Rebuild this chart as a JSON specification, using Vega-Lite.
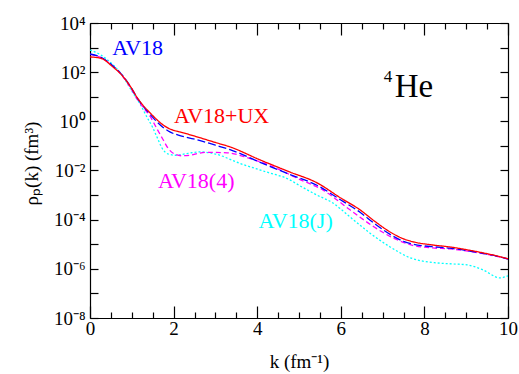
{
  "$schema": "https://vega.github.io/schema/vega-lite/v6.json",
  "width": 418,
  "height": 295,
  "autosize": "none",
  "padding": {"left": 90, "top": 23, "right": 11, "bottom": 56},
  "config": {
    "font": "Liberation Serif",
    "view": {"stroke": null},
    "axis": {
      "labelFont": "Liberation Serif",
      "titleFont": "Liberation Serif",
      "labelColor": "black",
      "titleColor": "black",
      "domainColor": "black",
      "tickColor": "black",
      "grid": false,
      "labelFlush": false,
      "labelOverlap": false,
      "labelFontSize": 19,
      "titleFontSize": 19,
      "titleFontWeight": "normal",
      "domainWidth": 1.2,
      "tickWidth": 1.2
    }
  },
  "datasets": {
    "curves": [
      {"series": "AV18(J)", "k": 0, "rho": 794},
      {"series": "AV18(J)", "k": 0.24, "rho": 525},
      {"series": "AV18(J)", "k": 0.55, "rho": 200},
      {"series": "AV18(J)", "k": 0.75, "rho": 83},
      {"series": "AV18(J)", "k": 1.03, "rho": 14.1},
      {"series": "AV18(J)", "k": 1.2, "rho": 5.0},
      {"series": "AV18(J)", "k": 1.36, "rho": 1.51},
      {"series": "AV18(J)", "k": 1.5, "rho": 0.562},
      {"series": "AV18(J)", "k": 1.6, "rho": 0.234},
      {"series": "AV18(J)", "k": 1.75, "rho": 0.0692},
      {"series": "AV18(J)", "k": 1.87, "rho": 0.0468},
      {"series": "AV18(J)", "k": 2.05, "rho": 0.0417},
      {"series": "AV18(J)", "k": 2.35, "rho": 0.0501},
      {"series": "AV18(J)", "k": 2.63, "rho": 0.0575},
      {"series": "AV18(J)", "k": 3.0, "rho": 0.0468},
      {"series": "AV18(J)", "k": 3.6, "rho": 0.0191},
      {"series": "AV18(J)", "k": 4.2, "rho": 0.00891},
      {"series": "AV18(J)", "k": 4.78, "rho": 0.00417},
      {"series": "AV18(J)", "k": 5.0, "rho": 0.00251},
      {"series": "AV18(J)", "k": 5.43, "rho": 0.001},
      {"series": "AV18(J)", "k": 5.81, "rho": 0.000479},
      {"series": "AV18(J)", "k": 6.22, "rho": 0.000129},
      {"series": "AV18(J)", "k": 6.7, "rho": 0.0000282},
      {"series": "AV18(J)", "k": 7.18, "rho": 0.00000776},
      {"series": "AV18(J)", "k": 7.66, "rho": 0.00000282},
      {"series": "AV18(J)", "k": 8.3, "rho": 0.00000174},
      {"series": "AV18(J)", "k": 8.7, "rho": 0.00000158},
      {"series": "AV18(J)", "k": 9.02, "rho": 0.00000145},
      {"series": "AV18(J)", "k": 9.4, "rho": 0.000000912},
      {"series": "AV18(J)", "k": 9.81, "rho": 0.000000427},
      {"series": "AV18(J)", "k": 10, "rho": 0.000000525},

      {"series": "AV18(4)", "k": 0, "rho": 525},
      {"series": "AV18(4)", "k": 0.25, "rho": 398},
      {"series": "AV18(4)", "k": 0.55, "rho": 174},
      {"series": "AV18(4)", "k": 0.75, "rho": 79.4},
      {"series": "AV18(4)", "k": 0.89, "rho": 38},
      {"series": "AV18(4)", "k": 1.0, "rho": 19.1},
      {"series": "AV18(4)", "k": 1.12, "rho": 8.51},
      {"series": "AV18(4)", "k": 1.28, "rho": 3.55},
      {"series": "AV18(4)", "k": 1.44, "rho": 1.58},
      {"series": "AV18(4)", "k": 1.6, "rho": 0.501},
      {"series": "AV18(4)", "k": 1.75, "rho": 0.178},
      {"series": "AV18(4)", "k": 1.87, "rho": 0.0794},
      {"series": "AV18(4)", "k": 2.05, "rho": 0.0447},
      {"series": "AV18(4)", "k": 2.2, "rho": 0.0398},
      {"series": "AV18(4)", "k": 2.4, "rho": 0.0417},
      {"series": "AV18(4)", "k": 2.6, "rho": 0.0501},
      {"series": "AV18(4)", "k": 2.8, "rho": 0.055},
      {"series": "AV18(4)", "k": 3.28, "rho": 0.0525},
      {"series": "AV18(4)", "k": 3.8, "rho": 0.0316},
      {"series": "AV18(4)", "k": 4.38, "rho": 0.0141},
      {"series": "AV18(4)", "k": 5.0, "rho": 0.00447},
      {"series": "AV18(4)", "k": 5.57, "rho": 0.00162},
      {"series": "AV18(4)", "k": 6.22, "rho": 0.000251},
      {"series": "AV18(4)", "k": 6.8, "rho": 0.0000501},
      {"series": "AV18(4)", "k": 7.2, "rho": 0.00002},
      {"series": "AV18(4)", "k": 7.66, "rho": 0.00000955},
      {"series": "AV18(4)", "k": 8.2, "rho": 0.00000708},
      {"series": "AV18(4)", "k": 8.61, "rho": 0.00000646},
      {"series": "AV18(4)", "k": 9.0, "rho": 0.00000537},
      {"series": "AV18(4)", "k": 9.4, "rho": 0.00000417},
      {"series": "AV18(4)", "k": 10, "rho": 0.00000251},

      {"series": "AV18", "k": 0, "rho": 550},
      {"series": "AV18", "k": 0.25, "rho": 417},
      {"series": "AV18", "k": 0.55, "rho": 178},
      {"series": "AV18", "k": 0.75, "rho": 83.2},
      {"series": "AV18", "k": 0.89, "rho": 41.7},
      {"series": "AV18", "k": 1.0, "rho": 21.4},
      {"series": "AV18", "k": 1.12, "rho": 9.55},
      {"series": "AV18", "k": 1.28, "rho": 3.98},
      {"series": "AV18", "k": 1.44, "rho": 1.91},
      {"series": "AV18", "k": 1.6, "rho": 0.955},
      {"series": "AV18", "k": 1.75, "rho": 0.562},
      {"series": "AV18", "k": 1.9, "rho": 0.38},
      {"series": "AV18", "k": 2.15, "rho": 0.263},
      {"series": "AV18", "k": 2.3, "rho": 0.224},
      {"series": "AV18", "k": 2.56, "rho": 0.178},
      {"series": "AV18", "k": 3.0, "rho": 0.107},
      {"series": "AV18", "k": 3.35, "rho": 0.0708},
      {"series": "AV18", "k": 4.07, "rho": 0.0214},
      {"series": "AV18", "k": 4.78, "rho": 0.00692},
      {"series": "AV18", "k": 5.43, "rho": 0.00251},
      {"series": "AV18", "k": 6.0, "rho": 0.000631},
      {"series": "AV18", "k": 6.46, "rho": 0.0002},
      {"series": "AV18", "k": 6.8, "rho": 0.0000708},
      {"series": "AV18", "k": 7.18, "rho": 0.0000251},
      {"series": "AV18", "k": 7.5, "rho": 0.0000132},
      {"series": "AV18", "k": 7.73, "rho": 0.00001},
      {"series": "AV18", "k": 8.2, "rho": 0.00000794},
      {"series": "AV18", "k": 8.61, "rho": 0.00000692},
      {"series": "AV18", "k": 9.0, "rho": 0.00000562},
      {"series": "AV18", "k": 9.4, "rho": 0.00000427},
      {"series": "AV18", "k": 9.7, "rho": 0.00000339},
      {"series": "AV18", "k": 10, "rho": 0.00000251},

      {"series": "AV18+UX", "k": 0, "rho": 417},
      {"series": "AV18+UX", "k": 0.25, "rho": 372},
      {"series": "AV18+UX", "k": 0.55, "rho": 162},
      {"series": "AV18+UX", "k": 0.75, "rho": 79.4},
      {"series": "AV18+UX", "k": 0.89, "rho": 39.8},
      {"series": "AV18+UX", "k": 1.0, "rho": 21.4},
      {"series": "AV18+UX", "k": 1.12, "rho": 9.77},
      {"series": "AV18+UX", "k": 1.28, "rho": 4.27},
      {"series": "AV18+UX", "k": 1.44, "rho": 2.19},
      {"series": "AV18+UX", "k": 1.6, "rho": 1.17},
      {"series": "AV18+UX", "k": 1.75, "rho": 0.708},
      {"series": "AV18+UX", "k": 1.9, "rho": 0.501},
      {"series": "AV18+UX", "k": 2.15, "rho": 0.372},
      {"series": "AV18+UX", "k": 2.3, "rho": 0.316},
      {"series": "AV18+UX", "k": 2.56, "rho": 0.234},
      {"series": "AV18+UX", "k": 3.0, "rho": 0.138},
      {"series": "AV18+UX", "k": 3.35, "rho": 0.0912},
      {"series": "AV18+UX", "k": 4.07, "rho": 0.0269},
      {"series": "AV18+UX", "k": 4.78, "rho": 0.00871},
      {"series": "AV18+UX", "k": 5.43, "rho": 0.00316},
      {"series": "AV18+UX", "k": 6.0, "rho": 0.000759},
      {"series": "AV18+UX", "k": 6.46, "rho": 0.000251},
      {"series": "AV18+UX", "k": 6.8, "rho": 0.0000891},
      {"series": "AV18+UX", "k": 7.18, "rho": 0.0000316},
      {"series": "AV18+UX", "k": 7.5, "rho": 0.0000166},
      {"series": "AV18+UX", "k": 7.73, "rho": 0.0000126},
      {"series": "AV18+UX", "k": 8.2, "rho": 0.00000933},
      {"series": "AV18+UX", "k": 8.61, "rho": 0.00000776},
      {"series": "AV18+UX", "k": 9.0, "rho": 0.00000603},
      {"series": "AV18+UX", "k": 9.4, "rho": 0.00000447},
      {"series": "AV18+UX", "k": 9.7, "rho": 0.00000347},
      {"series": "AV18+UX", "k": 10, "rho": 0.00000257}
    ],
    "labels": [
      {"series": "AV18", "k": 1.14, "rho": 501},
      {"series": "AV18+UX", "k": 3.15, "rho": 0.86},
      {"series": "AV18(4)", "k": 2.54, "rho": 0.00195},
      {"series": "AV18(J)", "k": 4.92, "rho": 0.0000468}
    ],
    "nucleus": [
      {"text": "He", "k": 7.75, "rho": 9.8}
    ],
    "massnumber": [
      {"text": "4", "k": 7.13, "rho": 39.8}
    ]
  },
  "layer": [
    {
      "data": {"name": "curves"},
      "mark": {"type": "line", "strokeWidth": 1.3, "interpolate": "monotone", "clip": true},
      "encoding": {
        "x": {
          "field": "k", "type": "quantitative",
          "scale": {"domain": [0, 10], "nice": false, "zero": false},
          "axis": {
            "orient": "bottom",
            "values": [0, 2, 4, 6, 8, 10],
            "tickSize": -12,
            "labelPadding": 13,
            "title": "k (fm⁻¹)",
            "titleY": 49,
            "titleBaseline": "alphabetic"
          }
        },
        "y": {
          "field": "rho", "type": "quantitative",
          "scale": {"type": "log", "domain": [1e-8, 10000], "nice": false},
          "axis": {
            "orient": "left",
            "values": [1e-8, 1e-6, 0.0001, 0.01, 1, 100, 10000],
            "tickSize": -8,
            "labelPadding": 13,
            "labelExpr": "datum.value >= 1000 ? '10⁴' : datum.value >= 10 ? '10²' : datum.value >= 0.1 ? '10⁰' : datum.value >= 0.001 ? '10⁻²' : datum.value >= 0.00001 ? '10⁻⁴' : datum.value >= 0.0000001 ? '10⁻⁶' : '10⁻⁸'",
            "title": "ρₚ(k) (fm³)",
            "titleX": -59,
            "titleY": 140,
            "titleAngle": -90,
            "titleBaseline": "middle",
            "titleAlign": "center"
          }
        },
        "color": {
          "field": "series", "type": "nominal",
          "scale": {"domain": ["AV18", "AV18+UX", "AV18(4)", "AV18(J)"], "range": ["#0000ff", "#ff0000", "#ff00ff", "#00ffff"]},
          "legend": null
        },
        "strokeDash": {
          "field": "series", "type": "nominal",
          "scale": {"domain": ["AV18", "AV18+UX", "AV18(4)", "AV18(J)"], "range": [[8, 3], [1, 0], [5, 3], [2, 2]]},
          "legend": null
        }
      }
    },
    {
      "data": {"name": "labels"},
      "mark": {"type": "text", "fontSize": 22, "align": "center", "baseline": "alphabetic", "font": "Liberation Serif"},
      "encoding": {
        "x": {
          "field": "k", "type": "quantitative",
          "scale": {"domain": [0, 10], "nice": false, "zero": false},
          "axis": {"orient": "top", "values": [0, 2, 4, 6, 8, 10], "tickSize": -12, "labels": false, "title": null}
        },
        "y": {
          "field": "rho", "type": "quantitative",
          "scale": {"type": "log", "domain": [1e-8, 10000], "nice": false},
          "axis": {"orient": "right", "values": [1e-8, 1e-6, 0.0001, 0.01, 1, 100, 10000], "tickSize": -8, "labels": false, "title": null}
        },
        "text": {"field": "series"},
        "color": {
          "field": "series", "type": "nominal",
          "scale": {"domain": ["AV18", "AV18+UX", "AV18(4)", "AV18(J)"], "range": ["#0000ff", "#ff0000", "#ff00ff", "#00ffff"]},
          "legend": null
        }
      }
    },
    {
      "data": {"name": "labels"},
      "mark": {"type": "point", "opacity": 0},
      "encoding": {
        "x": {
          "field": "k", "type": "quantitative",
          "scale": {"domain": [0, 10], "nice": false, "zero": false},
          "axis": {"orient": "bottom", "values": [0.5, 1, 1.5, 2.5, 3, 3.5, 4.5, 5, 5.5, 6.5, 7, 7.5, 8.5, 9, 9.5], "tickSize": -6, "labels": false, "domain": false, "title": null}
        },
        "y": {
          "field": "rho", "type": "quantitative",
          "scale": {"type": "log", "domain": [1e-8, 10000], "nice": false},
          "axis": {"orient": "left", "values": [1e-7, 1e-5, 0.001, 0.1, 10, 1000], "tickSize": -8, "labels": false, "domain": false, "title": null}
        }
      }
    },
    {
      "data": {"name": "labels"},
      "mark": {"type": "point", "opacity": 0},
      "encoding": {
        "x": {
          "field": "k", "type": "quantitative",
          "scale": {"domain": [0, 10], "nice": false, "zero": false},
          "axis": {"orient": "top", "values": [0.5, 1, 1.5, 2.5, 3, 3.5, 4.5, 5, 5.5, 6.5, 7, 7.5, 8.5, 9, 9.5], "tickSize": -6, "labels": false, "domain": false, "title": null}
        },
        "y": {
          "field": "rho", "type": "quantitative",
          "scale": {"type": "log", "domain": [1e-8, 10000], "nice": false},
          "axis": {"orient": "right", "values": [1e-7, 1e-5, 0.001, 0.1, 10, 1000], "tickSize": -8, "labels": false, "domain": false, "title": null}
        }
      }
    },
    {
      "data": {"name": "nucleus"},
      "mark": {"type": "text", "fontSize": 33, "align": "center", "baseline": "alphabetic", "color": "black", "font": "Liberation Serif"},
      "encoding": {
        "x": {"field": "k", "type": "quantitative", "scale": {"domain": [0, 10], "nice": false, "zero": false}, "axis": null},
        "y": {"field": "rho", "type": "quantitative", "scale": {"type": "log", "domain": [1e-8, 10000], "nice": false}, "axis": null},
        "text": {"field": "text"}
      }
    },
    {
      "data": {"name": "massnumber"},
      "mark": {"type": "text", "fontSize": 17, "align": "center", "baseline": "alphabetic", "color": "black", "font": "Liberation Serif"},
      "encoding": {
        "x": {"field": "k", "type": "quantitative", "scale": {"domain": [0, 10], "nice": false, "zero": false}, "axis": null},
        "y": {"field": "rho", "type": "quantitative", "scale": {"type": "log", "domain": [1e-8, 10000], "nice": false}, "axis": null},
        "text": {"field": "text"}
      }
    }
  ],
  "resolve": {"axis": {"x": "independent", "y": "independent"}}
}
